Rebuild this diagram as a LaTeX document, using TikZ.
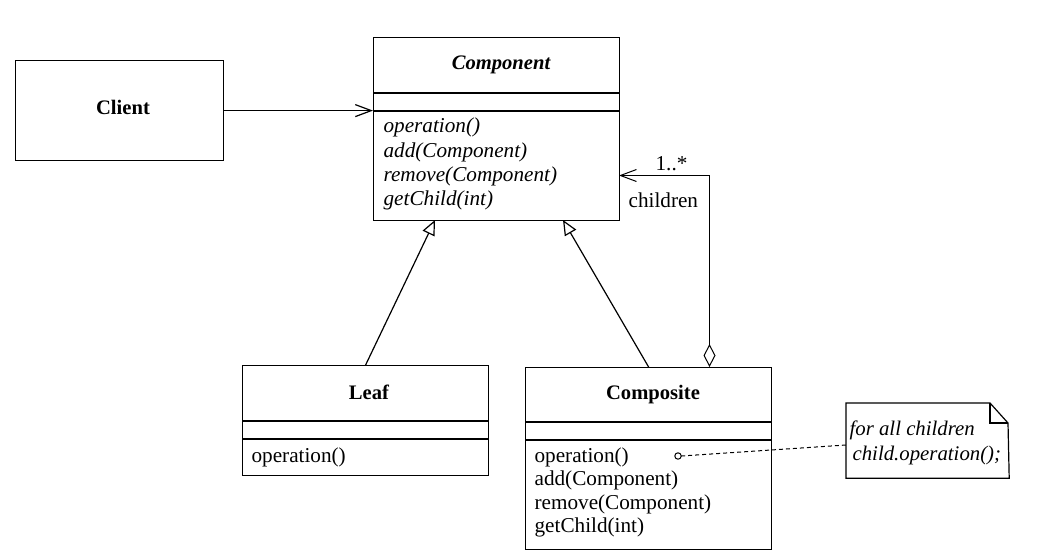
\documentclass[tikz,border=0pt]{standalone}
\usepackage{fontspec}
\setmainfont{Liberation Serif}
\usetikzlibrary{arrows.meta,calc}
\begin{document}
\begin{tikzpicture}[x=0.5pt,y=-0.5pt,
  line width=0.6pt,
  box/.style={draw, minimum width=123pt, inner sep=0pt, anchor=north west},
  ttl/.style={anchor=base, inner sep=0pt, font=\fontsize{10.3}{12}\selectfont\bfseries},
  mth/.style={anchor=base west, inner sep=0pt, font=\fontsize{10.6}{12}\selectfont},
  lbl/.style={anchor=base west, inner sep=0pt, font=\fontsize{10.6}{12}\selectfont},
  assoc/.style={-{Straight Barb[length=8pt,width=6pt]}},
  inherit/.style={-{Triangle[open,length=7.5pt,width=6.5pt]}},
  agg/.style={{Diamond[open,length=11.5pt,width=6pt]}-{Straight Barb[length=8pt,width=6pt]}},
  notelink/.style={dash pattern=on 2pt off 1.5pt, line width=0.5pt}
]
\useasboundingbox (0,0) rectangle (1038,556);

% Client
\node[box, minimum width=104pt, minimum height=50pt] (client) at (15,60) {};
\node[ttl] (clientT) at (123,115) {Client};

% Component
\node[box, minimum height=91.5pt] (comp) at (373,37) {};
\draw (comp.west |- 0,93) -- (comp.east |- 0,93);
\draw (comp.west |- 0,111) -- (comp.east |- 0,111);
\node[ttl, font=\fontsize{10.3}{12}\selectfont\bfseries\itshape] (compT) at (501,70) {Component};
\node[mth, font=\fontsize{10.6}{12}\selectfont\itshape] (cm1) at (383,133) {operation()};
\node[mth, font=\fontsize{10.6}{12}\selectfont\itshape] (cm2) at (383,157) {add(Component)};
\node[mth, font=\fontsize{10.6}{12}\selectfont\itshape] (cm3) at (383,181) {remove(Component)};
\node[mth, font=\fontsize{10.6}{12}\selectfont\itshape] (cm4) at (383,205) {getChild(int)};

% Leaf
\node[box, minimum height=55pt] (leaf) at (242,365) {};
\draw (leaf.west |- 0,421) -- (leaf.east |- 0,421);
\draw (leaf.west |- 0,439) -- (leaf.east |- 0,439);
\node[ttl] (leafT) at (369,399) {Leaf};
\node[mth] (lm1) at (251,462) {operation()};

% Composite
\node[box, minimum height=91pt] (compo) at (525,367) {};
\draw (compo.west |- 0,422) -- (compo.east |- 0,422);
\draw (compo.west |- 0,440) -- (compo.east |- 0,440);
\node[ttl] (compoT) at (653,399) {Composite};
\node[mth] (om1) at (534,462) {operation()};
\node[mth] (om2) at (534,485.5) {add(Component)};
\node[mth] (om3) at (534,509) {remove(Component)};
\node[mth] (om4) at (534,532.5) {getChild(int)};

% Note
\node[minimum width=81pt, minimum height=37pt, inner sep=0pt, anchor=north west] (note) at (846,403) {};
\draw (note.north west) -- (990,403) -- (1008,423) -- (note.south east) -- (note.south west) -- cycle;
\draw (990,403) -- (990,423) -- (1008,423);
\node[lbl, font=\fontsize{10.4}{12}\selectfont\itshape] (n1) at (849,435) {for all children};
\node[lbl, font=\fontsize{10.4}{12}\selectfont\itshape] (n2) at (852,460) {child.operation();};

% Connectors
\draw[assoc] (client.east) -- (client.east -| comp.west);

\coordinate (compL) at (435,220);
\coordinate (compR) at (563,220);
\draw[inherit] (leaf.north) -- (compL);
\draw[inherit] (compo.north) -- (compR);

\coordinate (aggS) at (709.5,367);
\coordinate (aggE) at (619,175.5);
\draw[agg, line width=0.5pt] (aggS) |- (aggE);
\node[lbl] (mult) at (655,170) {1..*};
\node[lbl] (role) at (628,207) {children};

\coordinate (dot) at (678,456);
\draw[line width=0.5pt] (dot) circle[radius=1.6pt];
\coordinate (noteIn) at (846,445);
\draw[notelink] ($(dot)+(3.2,0)$) -- (noteIn);
\end{tikzpicture}
\end{document}
